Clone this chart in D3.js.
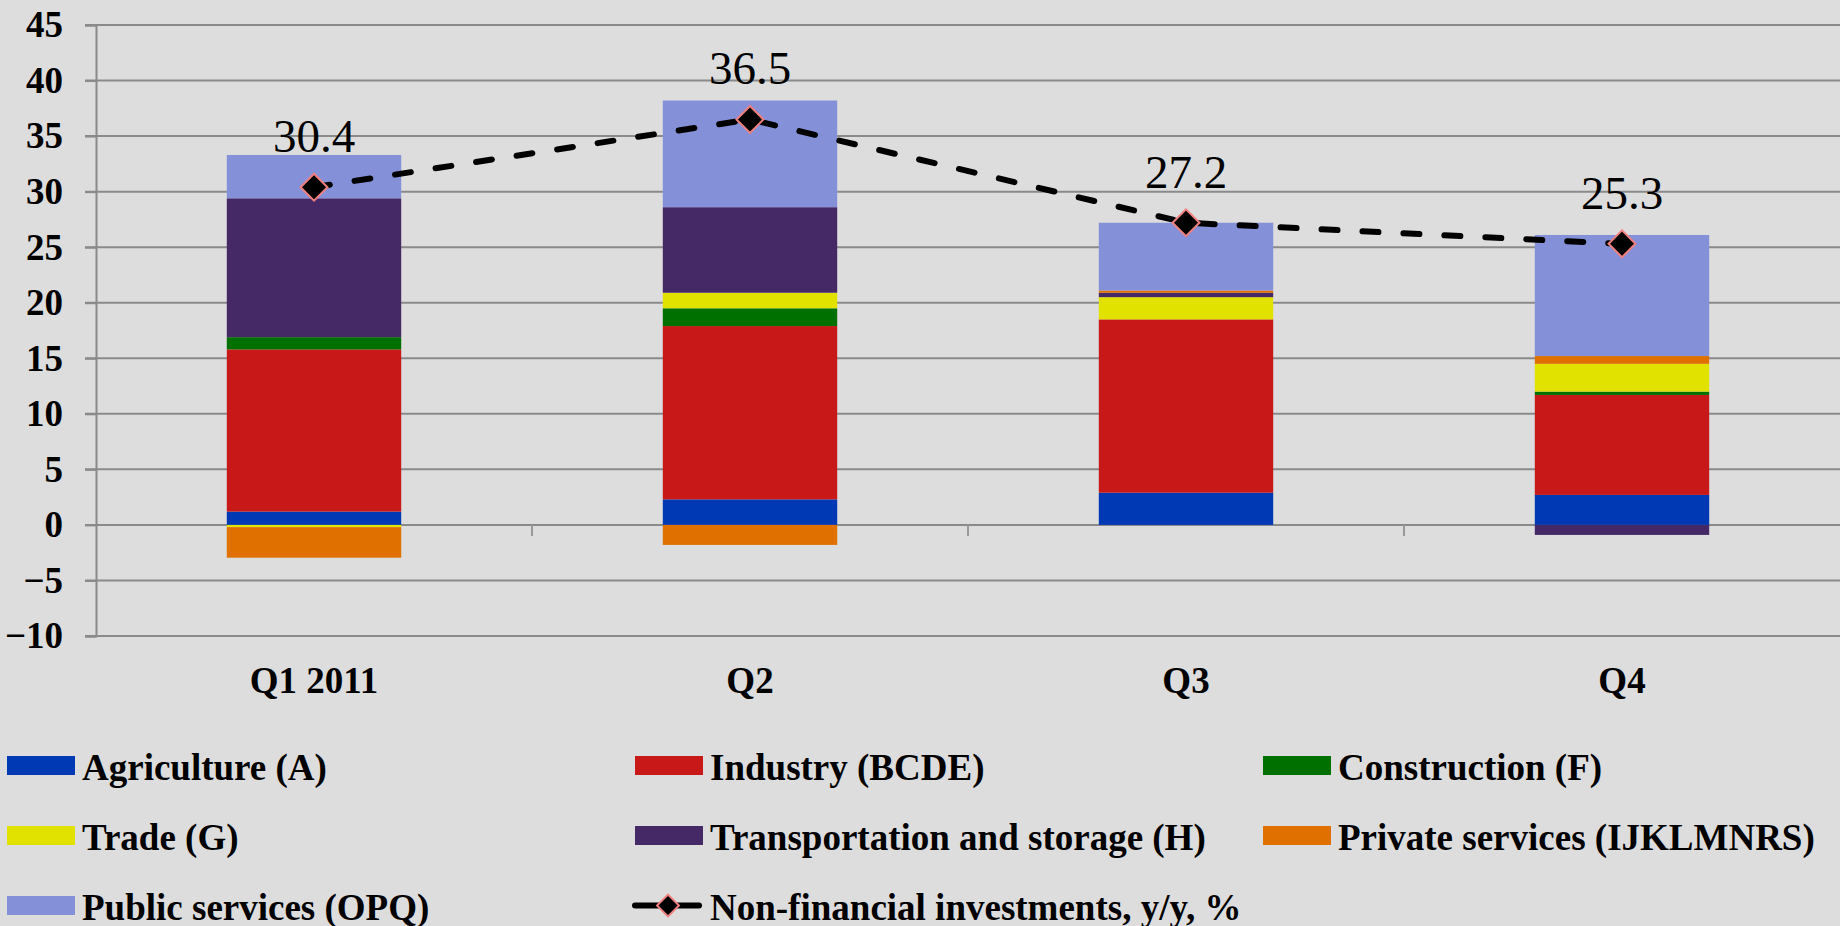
<!DOCTYPE html>
<html>
<head>
<meta charset="utf-8">
<script src="https://cdn.jsdelivr.net/npm/d3@7"></script>
<style>
  html, body { margin: 0; padding: 0; background: #dddddd; }
  svg { display: block; }
  text { font-family: "Liberation Serif", "Times New Roman", serif; }
</style>
</head>
<body>
<svg id="chart" width="1840" height="926"></svg>
<script>
// Quarters on the category axis
const quarters = ["Q1 2011", "Q2", "Q3", "Q4"];

// Contribution of each sector, percentage points
const agriculture    = [1.2, 2.3, 2.9, 2.7];
const industry       = [14.6, 15.6, 15.6, 9.0];
const construction   = [1.1, 1.6, 0.0, 0.3];
const trade          = [-0.2, 1.4, 2.0, 2.5];
const transportation = [12.5, 7.7, 0.4, -0.9];
const privateServ    = [-2.75, -1.8, 0.2, 0.7];
const publicServ     = [3.9, 9.6, 6.1, 10.9];

// Total non-financial investments, y/y, %
const investments = [30.4, 36.5, 27.2, 25.3];

// Y axis ticks
const yTicks = [-10, -5, 0, 5, 10, 15, 20, 25, 30, 35, 40, 45];

const seriesNames = [
  "Agriculture (A)", "Industry (BCDE)", "Construction (F)", "Trade (G)",
  "Transportation and storage (H)", "Private services (IJKLMNRS)", "Public services (OPQ)"
];
const seriesValues = [agriculture, industry, construction, trade, transportation, privateServ, publicServ];
const seriesColors = ["#0039b4", "#c81818", "#007000", "#e2e200", "#452866", "#e07000", "#8490d8"];
const lineName = "Non-financial investments, y/y, %";

const svg = d3.select("#chart");

const x = d3.scaleBand().domain(quarters).range([96, 1840]).padding(0);
const y = d3.scaleLinear().domain([-10, 45]).range([636, 25]);
const barW = x.bandwidth() * 0.4;

// rows for the stack
const rows = quarters.map((q, i) => {
  const r = { q };
  seriesNames.forEach((s, k) => r[s] = seriesValues[k][i]);
  return r;
});
const stacked = d3.stack().keys(seriesNames).offset(d3.stackOffsetDiverging)(rows);

// gridlines
svg.append("g").selectAll("line").data(yTicks).join("line")
  .attr("x1", 85).attr("x2", 1840)
  .attr("y1", d => y(d)).attr("y2", d => y(d))
  .attr("stroke", "#8a8a8a").attr("stroke-width", 2);

// y axis
const yAxis = svg.append("g").attr("transform", "translate(96,0)")
  .call(d3.axisLeft(y).tickValues(yTicks).tickSize(11).tickPadding(22).tickFormat(d3.format("d")));
yAxis.attr("font-family", null);
yAxis.select(".domain").attr("stroke", "#8a8a8a").attr("stroke-width", 2);
yAxis.selectAll(".tick line").attr("stroke", "#8a8a8a").attr("stroke-width", 2);
yAxis.selectAll(".tick text")
  .attr("font-size", 37).attr("font-weight", "bold").attr("fill", "#000");

// category boundary ticks below the zero line
svg.append("g").selectAll("line").data(quarters.slice(1)).join("line")
  .attr("x1", d => x(d)).attr("x2", d => x(d))
  .attr("y1", y(0)).attr("y2", y(0) + 11)
  .attr("stroke", "#9a9a9a").attr("stroke-width", 2);

// category labels
svg.append("g").selectAll("text").data(quarters).join("text")
  .attr("x", d => x(d) + x.bandwidth() / 2)
  .attr("y", 693)
  .attr("text-anchor", "middle")
  .attr("font-size", 37).attr("font-weight", "bold")
  .text(d => d);

// stacked bars
svg.append("g").selectAll("g").data(stacked).join("g")
  .attr("fill", (d, i) => seriesColors[i])
  .selectAll("rect").data(d => d).join("rect")
  .attr("x", d => x(d.data.q) + (x.bandwidth() - barW) / 2)
  .attr("width", barW)
  .attr("y", d => y(Math.max(d[0], d[1])))
  .attr("height", d => Math.abs(y(d[0]) - y(d[1])));

// investments line
const pts = quarters.map((q, i) => [x(q) + x.bandwidth() / 2, y(investments[i])]);
svg.append("path")
  .attr("d", d3.line()(pts))
  .attr("fill", "none").attr("stroke", "#000")
  .attr("stroke-width", 6).attr("stroke-linecap", "round")
  .attr("stroke-dasharray", "16,25");

const diamond = d3.symbol().type(d3.symbolSquare).size(361);
svg.append("g").selectAll("path").data(pts).join("path")
  .attr("transform", d => `translate(${d[0]},${d[1]}) rotate(45)`)
  .attr("d", diamond)
  .attr("fill", "#000").attr("stroke", "#f08080").attr("stroke-width", 2);

// value labels
svg.append("g").selectAll("text").data(investments).join("text")
  .attr("x", (d, i) => pts[i][0])
  .attr("y", (d, i) => pts[i][1] - 35)
  .attr("text-anchor", "middle")
  .attr("font-size", 47)
  .text(d => d3.format(".1f")(d));

// legend
const legendCols = [7, 635, 1263];
const legendRows = [756, 826, 896];
const legend = svg.append("g");
seriesNames.forEach((name, i) => {
  const cx = legendCols[i % 3], ry = legendRows[Math.floor(i / 3)];
  legend.append("rect").attr("x", cx).attr("y", ry).attr("width", 68).attr("height", 19)
    .attr("fill", seriesColors[i]);
  legend.append("text").attr("x", cx + 75).attr("y", ry + 23.5)
    .attr("font-size", 37).attr("font-weight", "bold").text(name);
});
{
  const cx = legendCols[1], ry = legendRows[2];
  legend.append("line").attr("x1", cx).attr("x2", cx + 64)
    .attr("y1", ry + 9.5).attr("y2", ry + 9.5)
    .attr("stroke", "#000").attr("stroke-width", 6).attr("stroke-linecap", "round");
  legend.append("path")
    .attr("transform", `translate(${cx + 33},${ry + 9.5}) rotate(45)`)
    .attr("d", d3.symbol().type(d3.symbolSquare).size(240))
    .attr("fill", "#000").attr("stroke", "#f08080").attr("stroke-width", 2);
  legend.append("text").attr("x", cx + 75).attr("y", ry + 23.5)
    .attr("font-size", 37).attr("font-weight", "bold").text(lineName);
}
</script>
</body>
</html>
